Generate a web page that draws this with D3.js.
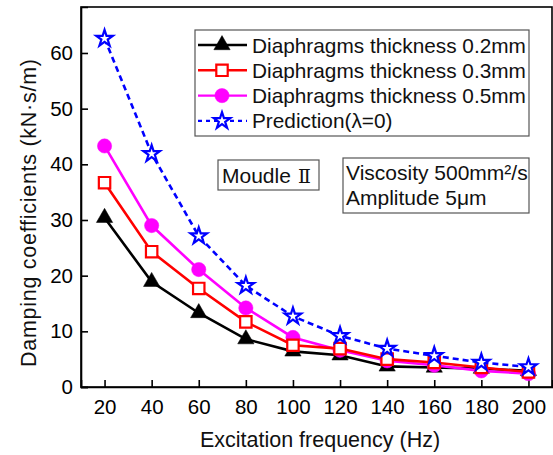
<!DOCTYPE html>
<html><head><meta charset="utf-8">
<script src="https://cdn.jsdelivr.net/npm/d3@7"></script>
<style>
html,body{margin:0;padding:0;background:#fff;}
svg{display:block;font-family:"Liberation Sans",Arial,sans-serif;}
</style></head>
<body>
<script>
const frequencies = [20, 40, 60, 80, 100, 120, 140, 160, 180, 200];
const thick02 = [30.4, 18.9, 13.3, 8.6, 6.4, 5.7, 3.7, 3.5, 3.3, 2.9];
const thick03 = [36.7, 24.3, 17.7, 11.7, 7.5, 6.9, 5.0, 4.4, 3.5, 2.7];
const thick05 = [43.3, 29.0, 21.1, 14.2, 8.9, 6.6, 4.7, 3.9, 2.9, 2.4];
const prediction = [62.6, 41.9, 27.1, 18.2, 12.7, 9.2, 6.9, 5.6, 4.4, 3.6];
const xTicks = [20, 40, 60, 80, 100, 120, 140, 160, 180, 200];
const yTicks = [0, 10, 20, 30, 40, 50, 60];
const seriesNames = ["Diaphragms thickness 0.2mm", "Diaphragms thickness 0.3mm", "Diaphragms thickness 0.5mm", "Prediction(\u03bb=0)"];

const W = 553, H = 455;
const pL = 81, pR = 552, pT = 7, pB = 387;
const svg = d3.select("body").append("svg").attr("width", W).attr("height", H);

const x = d3.scaleLinear().domain([10, 210]).range([pL, pR]);
const y = d3.scaleLinear().domain([0, 68.26]).range([pB, pT]);

const series = [
  {name: seriesNames[0], values: thick02, color: "#000000", symbol: d3.symbolTriangle, size: 115, fill: true, dash: null},
  {name: seriesNames[2], values: thick05, color: "#ff00ff", symbol: d3.symbolCircle, size: 160, fill: true, dash: null},
  {name: seriesNames[1], values: thick03, color: "#ff0000", symbol: d3.symbolSquare, size: 130, fill: false, dash: null},
  {name: seriesNames[3], values: prediction, color: "#0000ff", symbol: d3.symbolStar, size: 85, fill: false, dash: "6,4"}
];

svg.append("rect").attr("x", pL).attr("y", pT).attr("width", pR - pL).attr("height", pB - pT)
  .attr("fill", "none").attr("stroke", "#000").attr("stroke-width", 1.6);

const xAxis = d3.axisBottom(x).tickValues(xTicks).tickSize(-7).tickPadding(12).tickFormat(d3.format("d"));
const gx = svg.append("g").attr("transform", `translate(0,${pB})`).call(xAxis);
const yAxis = d3.axisLeft(y).tickValues(yTicks).tickSize(-7).tickPadding(8).tickFormat(d3.format("d"));
const gy = svg.append("g").attr("transform", `translate(${pL},0)`).call(yAxis);
[gx, gy].forEach(g => {
  g.select(".domain").attr("stroke", "#000").attr("stroke-width", 1.6);
  g.selectAll(".tick line").attr("stroke", "#000").attr("stroke-width", 1.6);
  g.selectAll(".tick text").attr("fill", "#000").style("font-size", "20.5px").style("font-family", "'Liberation Sans',Arial,sans-serif");
});

svg.append("text").attr("x", 320).attr("y", 447).attr("text-anchor", "middle")
  .style("font-size", "21.5px").attr("fill", "#111").text("Excitation frequency (Hz)");
svg.append("text").attr("transform", `translate(36,213) rotate(-90)`).attr("text-anchor", "middle")
  .style("font-size", "21.5px").attr("fill", "#111")
  .attr("textLength", 308).attr("lengthAdjust", "spacing")
  .text("Damping coefficients (kN\u00b7s/m)");

const line = d3.line().x((d, i) => x(frequencies[i])).y(d => y(d));
series.forEach(s => {
  svg.append("path").datum(s.values).attr("d", line).attr("fill", "none")
    .attr("stroke", s.color).attr("stroke-width", 2.6).attr("stroke-dasharray", s.dash);
  svg.append("g").selectAll("path").data(s.values).join("path")
    .attr("transform", (d, i) => `translate(${x(frequencies[i])},${y(d)})`)
    .attr("d", d3.symbol(s.symbol, s.size))
    .attr("fill", s.fill ? s.color : "#fff")
    .attr("stroke", s.color).attr("stroke-width", s.fill ? 0.5 : 2.2);
});

const legendOrder = [series[0], series[2], series[1], series[3]];
const lg = svg.append("g");
lg.append("rect").attr("x", 195).attr("y", 30).attr("width", 334).attr("height", 106)
  .attr("fill", "#fff").attr("stroke", "#555").attr("stroke-width", 1.2);
legendOrder.forEach((s, i) => {
  const cy = 45 + i * 25.3;
  lg.append("line").attr("x1", 198).attr("x2", 247).attr("y1", cy).attr("y2", cy)
    .attr("stroke", s.color).attr("stroke-width", 2.4).attr("stroke-dasharray", s.dash ? "4,4" : null);
  lg.append("path").attr("transform", `translate(222,${cy})`).attr("d", d3.symbol(s.symbol, s.size))
    .attr("fill", s.fill ? s.color : "#fff").attr("stroke", s.color).attr("stroke-width", s.fill ? 0.5 : 2.2);
  lg.append("text").attr("x", 252).attr("y", cy + 7.5).style("font-size", "20.8px").attr("fill", "#111").text(s.name);
});

svg.append("rect").attr("x", 218).attr("y", 160).attr("width", 101).attr("height", 30)
  .attr("fill", "#fff").attr("stroke", "#555").attr("stroke-width", 1.2);
const mt = svg.append("text").attr("x", 222).attr("y", 183).style("font-size", "21px").attr("fill", "#111");
mt.append("tspan").text("Moudle");
mt.append("tspan").attr("x", 298).style("font-family", "'DejaVu Serif','Liberation Serif',serif").style("font-size", "19px").text("\u2161");
svg.append("rect").attr("x", 343).attr("y", 158).attr("width", 186).attr("height", 55)
  .attr("fill", "#fff").attr("stroke", "#555").attr("stroke-width", 1.2);
svg.append("text").attr("x", 346).attr("y", 180).style("font-size", "21px").attr("fill", "#111").text("Viscosity 500mm\u00b2/s");
svg.append("text").attr("x", 346).attr("y", 205).style("font-size", "21px").attr("fill", "#111").text("Amplitude 5\u03bcm");
</script>
</body></html>
